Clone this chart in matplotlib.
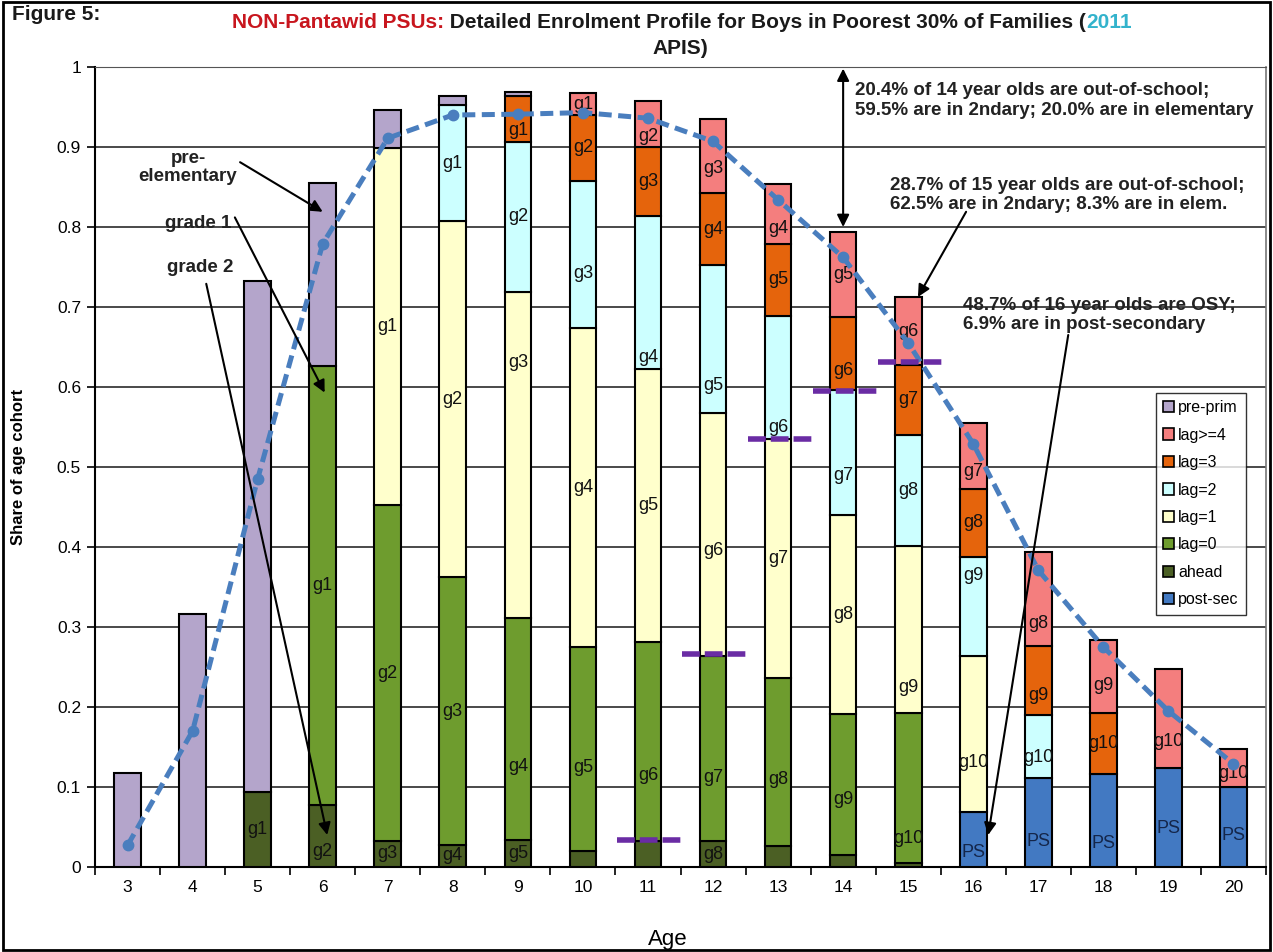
import matplotlib
matplotlib.use('Agg')
import matplotlib.pyplot as plt
from matplotlib.patches import Rectangle, Patch
import numpy as np

plt.rcParams['font.family'] = ['Liberation Sans', 'DejaVu Sans']

# ---------------- data ----------------
ages = list(range(3, 21))
post_sec = [0, 0, 0, 0, 0, 0, 0, 0, 0, 0, 0, 0, 0, 0.069, 0.111, 0.116, 0.124, 0.100]
ahead    = [0, 0, 0.094, 0.078, 0.033, 0.028, 0.034, 0.020, 0.033, 0.032, 0.026, 0.015, 0.005, 0, 0, 0, 0, 0]
lag0     = [0, 0, 0, 0.548, 0.419, 0.334, 0.277, 0.255, 0.248, 0.232, 0.210, 0.176, 0.188, 0, 0, 0, 0, 0]
lag1     = [0, 0, 0, 0, 0.447, 0.445, 0.408, 0.399, 0.341, 0.303, 0.299, 0.249, 0.208, 0.195, 0, 0, 0, 0]
lag2     = [0, 0, 0, 0, 0, 0.145, 0.187, 0.184, 0.192, 0.186, 0.154, 0.156, 0.139, 0.124, 0.079, 0, 0, 0]
lag3     = [0, 0, 0, 0, 0, 0, 0.058, 0.082, 0.086, 0.089, 0.090, 0.091, 0.088, 0.085, 0.086, 0.076, 0, 0]
lag4     = [0, 0, 0, 0, 0, 0, 0, 0.027, 0.057, 0.093, 0.075, 0.107, 0.084, 0.082, 0.118, 0.092, 0.124, 0.047]
pre_prim = [0.117, 0.316, 0.639, 0.229, 0.047, 0.012, 0.005, 0, 0, 0, 0, 0, 0, 0, 0, 0, 0, 0]
enrolled = [0.027, 0.170, 0.485, 0.779, 0.911, 0.940, 0.941, 0.943, 0.936, 0.907, 0.834, 0.762,
            0.655, 0.529, 0.371, 0.275, 0.195, 0.129]

# grade labels shown inside segments (age -> text)
ps_lbl    = {16: 'PS', 17: 'PS', 18: 'PS', 19: 'PS', 20: 'PS'}
ahead_lbl = {5: 'g1', 6: 'g2', 7: 'g3', 8: 'g4', 9: 'g5', 12: 'g8'}
lag0_lbl  = {6: 'g1', 7: 'g2', 8: 'g3', 9: 'g4', 10: 'g5', 11: 'g6', 12: 'g7', 13: 'g8', 14: 'g9', 15: 'g10'}
lag1_lbl  = {7: 'g1', 8: 'g2', 9: 'g3', 10: 'g4', 11: 'g5', 12: 'g6', 13: 'g7', 14: 'g8', 15: 'g9', 16: 'g10'}
lag2_lbl  = {8: 'g1', 9: 'g2', 10: 'g3', 11: 'g4', 12: 'g5', 13: 'g6', 14: 'g7', 15: 'g8', 16: 'g9', 17: 'g10'}
lag3_lbl  = {9: 'g1', 10: 'g2', 11: 'g3', 12: 'g4', 13: 'g5', 14: 'g6', 15: 'g7', 16: 'g8', 17: 'g9', 18: 'g10'}
lag4_lbl  = {10: 'g1', 11: 'g2', 12: 'g3', 13: 'g4', 14: 'g5', 15: 'g6', 16: 'g7', 17: 'g8', 18: 'g9', 19: 'g10', 20: 'g10'}

# short purple reference dashes
ref_ages = [11, 12, 13, 14, 15]
ref_vals = [0.034, 0.266, 0.535, 0.595, 0.631]

y_ticks = [0, 0.1, 0.2, 0.3, 0.4, 0.5, 0.6, 0.7, 0.8, 0.9, 1]
y_tick_labels = ['0', '0.1', '0.2', '0.3', '0.4', '0.5', '0.6', '0.7', '0.8', '0.9', '1']

# label y placement where the original label was moved off-centre
LABEL_Y = {
    ('PS', 16): 0.018, ('PS', 17): 0.032, ('PS', 18): 0.030, ('PS', 19): 0.048, ('PS', 20): 0.040,
    ('ahead', 6): 0.019,
    ('lag0', 9): 0.126, ('lag0', 10): 0.124, ('lag0', 11): 0.115, ('lag0', 12): 0.112,
    ('lag0', 13): 0.110, ('lag0', 14): 0.084, ('lag0', 15): 0.036,
    ('lag1', 9): 0.631, ('lag1', 12): 0.396, ('lag1', 15): 0.225, ('lag1', 16): 0.131,
    ('lag2', 10): 0.742, ('lag2', 11): 0.637, ('lag2', 12): 0.602, ('lag2', 13): 0.550,
    ('lag2', 14): 0.490, ('lag2', 16): 0.365, ('lag2', 17): 0.137,
    ('lag3', 9): 0.921, ('lag3', 14): 0.621, ('lag3', 17): 0.215,
    ('lag4', 11): 0.913, ('lag4', 12): 0.873, ('lag4', 13): 0.798, ('lag4', 16): 0.494,
    ('lag4', 17): 0.304, ('lag4', 18): 0.227, ('lag4', 19): 0.157, ('lag4', 20): 0.117,
}

# ---------------- figure ----------------
W, H = 1273, 952
fig = plt.figure(figsize=(W / 100, H / 100), dpi=100)
ax = fig.add_axes([95 / W, (H - 867) / H, (1266 - 95) / W, 800 / H])

x = np.arange(len(ages))
series = [
    ('PS', 'post-sec', post_sec, '#4279C2', ps_lbl, '#14264a'),
    ('ahead', 'ahead', ahead, '#4B5F24', ahead_lbl, '#111111'),
    ('lag0', 'lag=0', lag0, '#6E9C2E', lag0_lbl, '#111111'),
    ('lag1', 'lag=1', lag1, '#FFFFCC', lag1_lbl, '#111111'),
    ('lag2', 'lag=2', lag2, '#CCFFFF', lag2_lbl, '#111111'),
    ('lag3', 'lag=3', lag3, '#E5640C', lag3_lbl, '#111111'),
    ('lag4', 'lag>=4', lag4, '#F47E7E', lag4_lbl, '#111111'),
    ('pre', 'pre-prim', pre_prim, '#B4A5CB', {}, '#111111'),
]

bw = 0.41
bottom = np.zeros(len(ages))
handles = {}
for key, name, vals, col, lbls, tcol in series:
    v = np.array(vals, dtype=float)
    m = v > 0
    ax.bar(x[m], v[m], width=bw, bottom=bottom[m], color=col, edgecolor='black',
           linewidth=1.5, zorder=3)
    for age, txt in lbls.items():
        i = ages.index(age)
        yy = LABEL_Y.get((key, age), bottom[i] + v[i] / 2)
        ax.text(x[i], yy, txt, ha='center', va='center', fontsize=13, color=tcol, zorder=4)
    handles[name] = Patch(facecolor=col, edgecolor='black', linewidth=1.2)
    bottom = bottom + v

# enrolment dashed line
ax.plot(x, enrolled, color='#4A7EBE', lw=3.6, linestyle=(0, (2.6, 1.3)), marker='o',
        markersize=7.5, zorder=6)

# purple reference dashes
for a, v in zip(ref_ages, ref_vals):
    i = ages.index(a)
    ax.plot([x[i] - 0.47, x[i] + 0.53], [v, v], color='#6A2CA4', lw=4,
            linestyle=(0, (3.2, 0.9)), zorder=7, solid_capstyle='butt')

# axes styling
ax.set_xlim(-0.5, len(ages) - 0.5)
ax.set_ylim(0, 1)
ax.set_yticks(y_ticks)
ax.set_yticklabels(y_tick_labels, fontsize=12.5)
ax.set_xticks(x)
ax.set_xticklabels([str(a) for a in ages], fontsize=12.5)
ax.set_xticks(np.arange(len(ages) + 1) - 0.5, minor=True)
ax.tick_params(axis='x', which='major', length=0, pad=9)
ax.tick_params(axis='x', which='minor', length=6, width=1.2, direction='out')
ax.tick_params(axis='y', which='major', length=6, width=1.2, direction='out', pad=4)
for yv in y_ticks[1:]:
    ax.axhline(yv, color='#3a3a3a', lw=1.3, zorder=1)
ax.spines['left'].set_linewidth(1.5)
ax.spines['bottom'].set_linewidth(1.5)
ax.spines['top'].set_color('#555555')
ax.spines['right'].set_color('#777777')
ax.spines['right'].set_linewidth(1.2)

ax.set_ylabel('Share of age cohort', fontsize=12, fontweight='bold', labelpad=22)
fig.text(668 / W, 1 - 940 / H, 'Age', fontsize=16, ha='center', va='center')

# legend
order = ['pre-prim', 'lag>=4', 'lag=3', 'lag=2', 'lag=1', 'lag=0', 'ahead', 'post-sec']
leg = ax.legend([handles[n] for n in order], order, loc='upper left',
                bbox_to_anchor=((1156 - 95) / 1171, (867 - 393) / 800), borderaxespad=0,
                fontsize=11.5, frameon=True, fancybox=False, edgecolor='black',
                handlelength=0.7, handleheight=0.7, handletextpad=0.25, labelspacing=0.78,
                borderpad=0.45)
leg.get_frame().set_linewidth(1.0)
leg.set_zorder(10)

# annotations
fs_ann = 13.5
arrow = dict(arrowstyle='-|>', color='black', lw=1.5, mutation_scale=18, shrinkA=0, shrinkB=0)
ax.text(0.93, 0.874, 'pre-\nelementary', ha='center', va='center', fontsize=fs_ann,
        fontweight='bold', color='#222222', linespacing=1.1, zorder=8)
ax.annotate('', xy=(3.0, 0.819), xytext=(1.73, 0.881), arrowprops=arrow, zorder=8)
ax.text(1.08, 0.805, 'grade 1', ha='center', va='center', fontsize=fs_ann,
        fontweight='bold', color='#222222', zorder=8)
ax.annotate('', xy=(3.03, 0.593), xytext=(1.65, 0.812), arrowprops=arrow, zorder=8)
ax.text(1.11, 0.750, 'grade 2', ha='center', va='center', fontsize=fs_ann,
        fontweight='bold', color='#222222', zorder=8)
ax.annotate('', xy=(3.07, 0.04), xytext=(1.21, 0.729), arrowprops=arrow, zorder=8)

ax.annotate('', xy=(11.0, 0.998), xytext=(11.0, 0.800),
            arrowprops=dict(arrowstyle='<|-|>', color='black', lw=1.5, mutation_scale=18,
                            shrinkA=0, shrinkB=0), zorder=8)
ax.text(11.18, 0.958, '20.4% of 14 year olds are out-of-school;\n59.5% are in 2ndary; 20.0% are in elementary',
        ha='left', va='center', fontsize=fs_ann, fontweight='bold', color='#222222',
        linespacing=1.2, zorder=8)
ax.text(11.72, 0.840, '28.7% of 15 year olds are out-of-school;\n62.5% are in 2ndary; 8.3% are in elem.',
        ha='left', va='center', fontsize=fs_ann, fontweight='bold', color='#222222',
        linespacing=1.2, zorder=8)
ax.annotate('', xy=(12.15, 0.7125), xytext=(12.89, 0.819), arrowprops=arrow, zorder=8)
ax.text(12.85, 0.690, '48.7% of 16 year olds are OSY;\n6.9% are in post-secondary',
        ha='left', va='center', fontsize=fs_ann, fontweight='bold', color='#222222',
        linespacing=1.2, zorder=8)
ax.annotate('', xy=(13.23, 0.04), xytext=(14.46, 0.665), arrowprops=arrow, zorder=8)

# title pieces
fs_t = 15
t1 = fig.text(232 / W, 1 - 22 / H, 'NON-Pantawid PSUs:', color='#C8161E', fontsize=fs_t,
              fontweight='bold', ha='left', va='center')
a2 = ax.annotate(' Detailed Enrolment Profile for Boys in Poorest 30% of Families (',
                 xy=(1, 0), xycoords=t1, ha='left', va='bottom', color='#1a1a1a',
                 fontsize=fs_t, fontweight='bold', annotation_clip=False)
a3 = ax.annotate('2011', xy=(1, 0), xycoords=a2, ha='left', va='bottom', color='#33B3CC',
                 fontsize=fs_t, fontweight='bold', annotation_clip=False)
fig.text(680 / W, 1 - 49 / H, 'APIS)', color='#1a1a1a', fontsize=fs_t, fontweight='bold',
         ha='center', va='center')
fig.text(12 / W, 1 - 15 / H, 'Figure 5:', color='#1a1a1a', fontsize=15, fontweight='bold',
         ha='left', va='center')

# outer frame
fig.patches.append(Rectangle((0.002, 0.002), 0.996, 0.996, transform=fig.transFigure,
                             fill=False, edgecolor='black', lw=2))

fig.savefig('out.png', dpi=100)
